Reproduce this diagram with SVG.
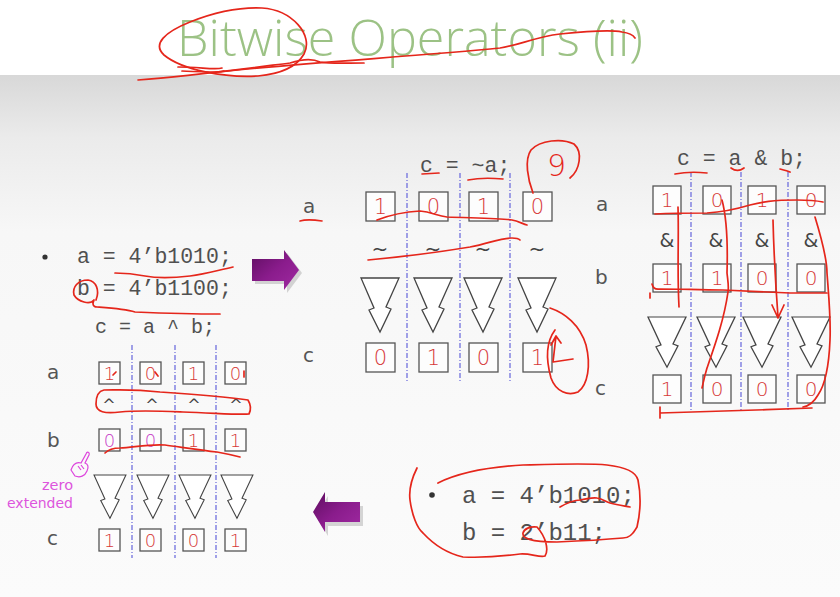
<svg xmlns="http://www.w3.org/2000/svg" width="840" height="597" viewBox="0 0 840 597">
<defs>
<linearGradient id="bg" x1="0" y1="0" x2="0" y2="1">
<stop offset="0" stop-color="#d8d8d8"/>
<stop offset="0.12" stop-color="#ebebeb"/>
<stop offset="0.3" stop-color="#f7f7f7"/>
<stop offset="1" stop-color="#fbfbfb"/>
</linearGradient>
<linearGradient id="purp" x1="0" y1="0" x2="1" y2="1">
<stop offset="0" stop-color="#5e0e60"/>
<stop offset="0.5" stop-color="#8a1c8c"/>
<stop offset="1" stop-color="#a02aa2"/>
</linearGradient>
<path id="tri" d="M0,0 L38,0 L25,29 L30,31 L19,54 L8,32 L13,30 Z"/>
</defs>
<style>
.code{font-family:"Liberation Mono","Courier New",monospace;fill:#505050}
.lbl{font-family:"DejaVu Sans","Liberation Sans",sans-serif;fill:#555;font-size:20px}
.box{fill:#fdfdfd;stroke:#555;stroke-width:1.3}
.dig{font-family:"DejaVu Sans","Liberation Sans",sans-serif;fill:#d63838;text-anchor:middle;font-weight:200}
.mag{fill:#c83ec8}
.op{font-family:"DejaVu Sans","Liberation Sans",sans-serif;fill:#444;text-anchor:middle}
.dash{stroke:#7070dd;stroke-width:1.3;stroke-dasharray:5,2,1,2;fill:none}
.tri{fill:#fff;stroke:#444;stroke-width:1.3;stroke-linejoin:miter}
.ink{fill:none;stroke:#e5261b;stroke-width:1.7;stroke-linecap:round;stroke-linejoin:round}
</style>
<rect x="0" y="0" width="840" height="597" fill="#ffffff"/>
<rect x="0" y="75" width="840" height="522" fill="url(#bg)"/>

<g id="title">
<text x="177" y="56" font-family="'Open Sans','Liberation Sans',sans-serif" font-size="50" font-weight="300" fill="#9cc285" textLength="466" lengthAdjust="spacingAndGlyphs">Bitwise Operators (ii)</text>
</g>

<g id="code-left">
<circle cx="45" cy="257" r="2.6" fill="#333"/>
<text class="code" x="77" y="263" font-size="21.5">a = 4’b1010;</text>
<text class="code" x="77" y="295" font-size="21.5">b = 4’b1100;</text>
<text class="code" x="95" y="333" font-size="20">c = a ^ b;</text>
</g>

<g id="code-bottom-right">
<circle cx="432" cy="495" r="2.8" fill="#333"/>
<text class="code" x="462" y="503" font-size="24">a = 4’b1010;</text>
<text class="code" x="462" y="540" font-size="24">b = 2’b11;</text>
</g>

<g id="panel-not">
<text class="code" x="420" y="172" font-size="21.5">c = ~a;</text>
<g class="dash"><path d="M407,173 V383 M460,173 V383 M510,173 V383"/></g>
<text class="lbl" x="303" y="213">a</text>
<text class="lbl" x="303" y="362">c</text>
<g id="not-a">
<rect class="box" x="366" y="192" width="29" height="29"/><text class="dig" x="380.5" y="214" font-size="21">1</text>
<rect class="box" x="419" y="192" width="29" height="29"/><text class="dig" x="433.5" y="214" font-size="21">0</text>
<rect class="box" x="469" y="192" width="29" height="29"/><text class="dig" x="483.5" y="214" font-size="21">1</text>
<rect class="box" x="523" y="192" width="29" height="29"/><text class="dig" x="537.5" y="214" font-size="21">0</text>
</g>
<g id="not-ops">
<text class="op" x="380" y="256" font-size="20">~</text>
<text class="op" x="433" y="256" font-size="20">~</text>
<text class="op" x="483" y="256" font-size="20">~</text>
<text class="op" x="537" y="256" font-size="20">~</text>
</g>
<g id="not-c">
<rect class="box" x="366" y="343" width="29" height="29"/><text class="dig" x="380.5" y="365" font-size="21">0</text>
<rect class="box" x="419" y="343" width="29" height="29"/><text class="dig" x="433.5" y="365" font-size="21">1</text>
<rect class="box" x="469" y="343" width="29" height="29"/><text class="dig" x="483.5" y="365" font-size="21">0</text>
<rect class="box" x="523" y="343" width="29" height="29"/><text class="dig" x="537.5" y="365" font-size="21">1</text>
</g>
</g>

<g id="panel-and">
<text class="code" x="677" y="165" font-size="21.5">c = a &amp; b;</text>
<g class="dash"><path d="M691,172 V410 M741,172 V410 M788,172 V410"/></g>
<text class="lbl" x="596" y="211">a</text>
<text class="lbl" x="595" y="284">b</text>
<text class="lbl" x="595" y="395">c</text>
<g id="and-a">
<rect class="box" x="653" y="186" width="28" height="28"/><text class="dig" x="667" y="207" font-size="20">1</text>
<rect class="box" x="703" y="186" width="28" height="28"/><text class="dig" x="717" y="207" font-size="20">0</text>
<rect class="box" x="748" y="186" width="28" height="28"/><text class="dig" x="762" y="207" font-size="20">1</text>
<rect class="box" x="797" y="186" width="28" height="28"/><text class="dig" x="811" y="207" font-size="20">0</text>
</g>
<g id="and-ops">
<text class="op" x="667" y="247" font-size="19">&amp;</text>
<text class="op" x="716" y="247" font-size="19">&amp;</text>
<text class="op" x="762" y="247" font-size="19">&amp;</text>
<text class="op" x="811" y="247" font-size="19">&amp;</text>
</g>
<g id="and-b">
<rect class="box" x="653" y="264" width="28" height="28"/><text class="dig" x="667" y="285" font-size="20">1</text>
<rect class="box" x="703" y="264" width="28" height="28"/><text class="dig" x="717" y="285" font-size="20">1</text>
<rect class="box" x="748" y="264" width="28" height="28"/><text class="dig" x="762" y="285" font-size="20">0</text>
<rect class="box" x="797" y="264" width="28" height="28"/><text class="dig" x="811" y="285" font-size="20">0</text>
</g>
<g id="and-c">
<rect class="box" x="653" y="375" width="28" height="28"/><text class="dig" x="667" y="396" font-size="20">1</text>
<rect class="box" x="703" y="375" width="28" height="28"/><text class="dig" x="717" y="396" font-size="20">0</text>
<rect class="box" x="748" y="375" width="28" height="28"/><text class="dig" x="762" y="396" font-size="20">0</text>
<rect class="box" x="797" y="375" width="28" height="28"/><text class="dig" x="811" y="396" font-size="20">0</text>
</g>
</g>

<g id="panel-xor">
<g class="dash"><path d="M132,345 V558 M175,345 V558 M216,345 V558"/></g>
<text class="lbl" x="47" y="379" font-size="18">a</text>
<text class="lbl" x="47" y="447" font-size="18">b</text>
<text class="lbl" x="47" y="545" font-size="18">c</text>
<g id="xor-a">
<rect class="box" x="99" y="362" width="21" height="22"/><text class="dig" x="109.5" y="380" font-size="18">1</text>
<rect class="box" x="140" y="362" width="21" height="22"/><text class="dig" x="150.5" y="380" font-size="18">0</text>
<rect class="box" x="183" y="362" width="21" height="22"/><text class="dig" x="193.5" y="380" font-size="18">1</text>
<rect class="box" x="225" y="362" width="21" height="22"/><text class="dig" x="235.5" y="380" font-size="18">0</text>
</g>
<g id="xor-ops">
<text class="op" x="109" y="410" font-size="16">^</text>
<text class="op" x="152" y="410" font-size="16">^</text>
<text class="op" x="194" y="410" font-size="16">^</text>
<text class="op" x="236" y="410" font-size="16">^</text>
</g>
<g id="xor-b">
<rect class="box" x="99" y="429" width="21" height="22"/><text class="dig mag" x="109.5" y="447" font-size="18">0</text>
<rect class="box" x="140" y="429" width="21" height="22"/><text class="dig mag" x="150.5" y="447" font-size="18">0</text>
<rect class="box" x="183" y="429" width="21" height="22"/><text class="dig" x="193.5" y="447" font-size="18">1</text>
<rect class="box" x="225" y="429" width="21" height="22"/><text class="dig" x="235.5" y="447" font-size="18">1</text>
</g>
<g id="xor-c">
<rect class="box" x="99" y="529" width="21" height="22"/><text class="dig" x="109.5" y="547" font-size="18">1</text>
<rect class="box" x="140" y="529" width="21" height="22"/><text class="dig" x="150.5" y="547" font-size="18">0</text>
<rect class="box" x="183" y="529" width="21" height="22"/><text class="dig" x="193.5" y="547" font-size="18">0</text>
<rect class="box" x="225" y="529" width="21" height="22"/><text class="dig" x="235.5" y="547" font-size="18">1</text>
</g>
<g id="zero-extended">
<path d="M71,470 C73,464 77,462 81,463 L86,454 C87,451 90,452 89,455 L85,463 C88,464 89,467 87,471 C85,476 80,478 75,476 Z M78,466 L81,470 M81,465 L84,469" fill="none" stroke="#dd44dd" stroke-width="1.2"/>
<text x="73" y="490" font-family="'DejaVu Sans','Liberation Sans',sans-serif" font-size="14.5" fill="#dd55dd" text-anchor="end">zero</text>
<text x="73" y="508" font-family="'DejaVu Sans','Liberation Sans',sans-serif" font-size="14.5" fill="#dd55dd" text-anchor="end" textLength="66" lengthAdjust="spacingAndGlyphs">extended</text>
</g>
</g>

<g id="connectors">
<g class="tri">
<use href="#tri" transform="translate(361,278)"/>
<use href="#tri" transform="translate(414,278)"/>
<use href="#tri" transform="translate(464,278)"/>
<use href="#tri" transform="translate(518,278)"/>
<use href="#tri" transform="translate(648,317) scale(1,0.93)"/>
<use href="#tri" transform="translate(697,317) scale(1,0.93)"/>
<use href="#tri" transform="translate(743,317) scale(1,0.93)"/>
<use href="#tri" transform="translate(792,317) scale(1,0.93)"/>
<use href="#tri" transform="translate(94,475) scale(0.84,0.8)"/>
<use href="#tri" transform="translate(137,475) scale(0.84,0.8)"/>
<use href="#tri" transform="translate(179,475) scale(0.84,0.8)"/>
<use href="#tri" transform="translate(221,475) scale(0.84,0.8)"/>
</g>
<path d="M255,263 H287 V253 L302,273 L287,293 V284 H255 Z" fill="#d2d2d2"/>
<path d="M252,259 H284 V250 L299,270 L284,290 V281 H252 Z" fill="url(#purp)"/>
<path d="M328,506 V496 L316,516 L328,536 V526 H363 V506 Z" fill="#d4d4d4"/>
<path d="M325,502 V492 L313,512 L325,532 V522 H360 V502 Z" fill="url(#purp)"/>
</g>

<g id="annotations" class="ink">
<path d="M262,8 C292,10 314,35 304,54 C296,68 280,74 258,76 C225,78 182,70 164,55 C152,44 165,32 190,22 C215,12 240,7 262,8"/>
<path d="M138,80 C190,76 250,68 290,63 C302,59 312,58 320,62 C330,64 345,63 364,63"/>
<path d="M178,67 C200,67 215,70 222,68 M182,71 C205,72 215,73 224,71"/>
<path d="M218,72 C300,63 420,56 500,48 C520,45 535,37 560,34 C590,31 612,30 622,32 C630,33 633,35 635,38"/>
<path d="M422,174 L439,173 M468,180 C478,178 492,178 503,179"/>
<path d="M533,193 C528,180 524,160 531,150 C540,140 562,138 574,144 C583,152 580,170 570,178"/>
<text x="547" y="176" font-family="'DejaVu Sans','Liberation Sans',sans-serif" font-size="30" font-weight="200" fill="#e5261b" stroke="none">9</text>
<path d="M300,221 C307,219 315,220 322,221"/>
<path d="M377,220 C390,215 402,212 420,211 C432,212 437,216 447,217 C470,218 500,218 512,220 C518,221 523,224 527,225"/>
<path d="M368,260 C400,257 440,252 470,247 C490,243 500,238 512,238 C517,238 519,239 520,240"/>
<path d="M550,308 C565,313 580,325 586,345 C591,365 588,385 578,392 C568,396 556,392 551,378 C546,360 546,342 555,330"/>
<path d="M556,336 L553,362 L573,359 M556,336 L551,345 M556,336 L561,343"/>
<path d="M675,174 C685,172 698,172 707,173 M731,168 C735,171 740,171 744,168 M780,169 C784,170 788,171 790,172"/>
<path d="M655,214 C675,213 695,213 707,213 C725,212 740,208 750,205 C762,202 772,200 797,200 C810,200 818,201 823,202"/>
<path d="M652,284 C653,288 655,290 660,289 C680,289 700,290 723,290 C750,291 770,292 790,293 C805,293 818,293 827,293"/>
<path d="M678,207 C679,240 677,270 679,307"/>
<path d="M722,200 C726,215 728,240 727,273 C728,282 729,287 728,292 C724,320 715,345 707,368 C704,378 703,384 702,388"/>
<path d="M773,220 C774,260 776,290 778,317 M772,305 L778,318 L784,305"/>
<path d="M815,217 C822,240 827,260 827,273 C829,300 831,320 830,340 C829,365 825,385 818,395 C814,402 809,406 803,407"/>
<path d="M660,407 L660,418 M660,413 C700,412 760,410 812,408"/>
<path d="M650,293 L650,298"/>
<path d="M115,273 C125,273 135,274 145,276 C155,278 165,279 190,276 C205,274 215,271 233,267"/>
<path d="M96,300 C100,290 96,281 88,280 C78,280 72,287 74,295 C78,302 90,305 94,300 C92,304 93,307 97,307 C110,308 125,309 135,312 C160,313 190,314 220,314"/>
<path d="M113,375 L116,372 M155,372 L158,376 M244,371 L244,377"/>
<path d="M104,390 C120,390 133,389 160,392 C190,394 220,396 248,400 C251,405 251,410 249,414 C240,415 215,413 183,412 C160,411 140,410 120,412 C105,414 96,412 96,404 C96,396 99,391 104,390"/>
<path d="M105,453 C108,450 112,448 120,448 C135,447 150,444 165,445 C180,447 200,450 217,452 C228,454 236,456 240,457"/>
<path d="M438,483 C460,472 490,467 523,465 C560,464 590,463 607,465 C625,467 636,472 638,480 C641,495 641,510 637,527 C632,536 628,538 623,538 C600,540 580,541 557,542 M417,468 C411,480 409,492 410,500 C412,515 417,528 423,533 C435,546 450,554 463,557 C485,558 505,556 520,554 C530,553 540,558 545,556 C549,550 546,537 537,527 C530,526 524,529 523,533 C522,538 530,542 557,542"/>
<path d="M560,507 C567,503 573,500 580,500 C588,499 592,497 597,498 C603,499 606,502 610,503 C618,505 625,506 630,507"/>
</g>
</svg>
